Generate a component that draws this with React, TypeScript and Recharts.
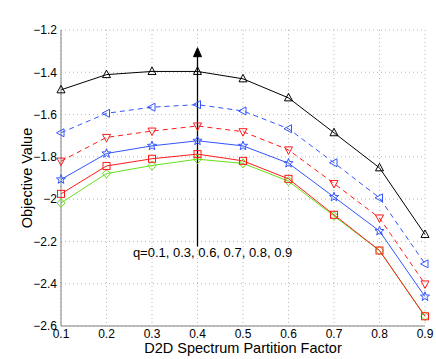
import React from 'react';
import {
  LineChart,
  Line,
  XAxis,
  YAxis,
  CartesianGrid,
  ReferenceLine,
  ReferenceDot,
} from 'recharts';

// D2D spectrum partition factor (x axis)
const factors = [0.1, 0.2, 0.3, 0.4, 0.5, 0.6, 0.7, 0.8, 0.9];

// objective value per q
const q09 = [-1.483, -1.411, -1.396, -1.396, -1.431, -1.521, -1.686, -1.852, -2.167];
const q08 = [-1.686, -1.594, -1.565, -1.553, -1.583, -1.667, -1.828, -1.994, -2.306];
const q07 = [-1.82, -1.708, -1.678, -1.654, -1.681, -1.767, -1.926, -2.089, -2.401];
const q06 = [-1.907, -1.784, -1.748, -1.724, -1.748, -1.83, -1.99, -2.151, -2.461];
const q03 = [-1.975, -1.843, -1.809, -1.787, -1.819, -1.904, -2.074, -2.243, -2.554];
const q01 = [-2.018, -1.879, -1.841, -1.811, -1.831, -1.915, -2.08, -2.243, -2.554];

const yTicks = [-2.6, -2.4, -2.2, -2, -1.8, -1.6, -1.4, -1.2];

// arrow + note
const arrowX = 0.4;
const arrowBottom = -2.224;
const arrowHead = -1.305;
const noteX = 0.258;
const noteY = -2.275;
const noteText = 'q=0.1, 0.3, 0.6, 0.7, 0.8, 0.9';

const data = factors.map((f, i) => ({
  f,
  q09: q09[i],
  q08: q08[i],
  q07: q07[i],
  q06: q06[i],
  q03: q03[i],
  q01: q01[i],
}));

const BLACK = '#000000';
const BLUE = '#3355ff';
const RED = '#ff1a1a';
const GREEN = '#66e01a';
const FONT = '"Liberation Sans", Arial, Helvetica, sans-serif';

const starPoints = (cx: number, cy: number) => {
  const pts: string[] = [];
  for (let k = 0; k < 10; k++) {
    const r = k % 2 === 0 ? 4.8 : 2;
    const a = -Math.PI / 2 + (k * Math.PI) / 5;
    pts.push(`${cx + r * Math.cos(a)},${cy + r * Math.sin(a)}`);
  }
  return pts.join(' ');
};

const makeDot = (kind: string, color: string) => (props: any) => {
  const { cx, cy, index } = props;
  const common = { fill: 'none', stroke: color, strokeWidth: 1 };
  const key = `${kind}-${index}`;
  if (cx == null || cy == null) return <g key={key} />;
  switch (kind) {
    case 'up':
      return <polygon key={key} {...common} points={`${cx},${cy - 4.5} ${cx - 4},${cy + 3} ${cx + 4},${cy + 3}`} />;
    case 'left':
      return <polygon key={key} {...common} points={`${cx - 4.5},${cy} ${cx + 3},${cy - 4} ${cx + 3},${cy + 4}`} />;
    case 'down':
      return <polygon key={key} {...common} points={`${cx},${cy + 4.5} ${cx - 4},${cy - 3} ${cx + 4},${cy - 3}`} />;
    case 'square':
      return <rect key={key} {...common} x={cx - 3.5} y={cy - 3.5} width={7} height={7} />;
    case 'diamond':
      return <polygon key={key} {...common} points={`${cx},${cy - 4.5} ${cx + 4},${cy} ${cx},${cy + 4.5} ${cx - 4},${cy}`} />;
    default:
      return <polygon key={key} {...common} points={starPoints(cx, cy)} />;
  }
};

const fmt = (v: number) => (v < 0 ? '\u2212' + String(Math.abs(v)) : String(v));

export default function App() {
  return (
    <div style={{ position: 'absolute', left: 0, top: 0, background: '#fff' }}>
      <LineChart
        width={436}
        height={359}
        data={data}
        margin={{ top: 30, right: 11, left: 0, bottom: 0 }}
        style={{ fontFamily: FONT }}
      >
        <CartesianGrid stroke="#b8b8b8" strokeDasharray="1 3" />
        <XAxis
          dataKey="f"
          type="number"
          domain={[0.1, 0.9]}
          ticks={factors}
          tickFormatter={fmt}
          height={33}
          stroke="#808080"
          tickLine={false}
          tickSize={3}
          tickMargin={0}
          tick={{ fill: '#000', fontSize: 12 }}
          label={{ value: 'D2D Spectrum Partition Factor', position: 'center', dy: 5, fill: '#000', fontSize: 14.5 }}
        />
        <YAxis
          type="number"
          domain={[-2.6, -1.2]}
          ticks={yTicks}
          tickFormatter={fmt}
          width={61}
          stroke="#808080"
          tickLine={false}
          tickSize={4}
          tickMargin={0}
          tick={{ fill: '#000', fontSize: 12 }}
          label={{ value: 'Objective Value', angle: -90, position: 'center', dx: -4, fill: '#000', fontSize: 14.5 }}
        />
        <ReferenceLine
          segment={[
            { x: arrowX, y: arrowBottom },
            { x: arrowX, y: arrowHead },
          ]}
          stroke={BLACK}
          strokeWidth={1.3}
        />
        <ReferenceDot
          x={arrowX}
          y={arrowHead}
          r={4}
          shape={(p: any) => (
            <polygon points={`${p.cx},${p.cy - 4.5} ${p.cx - 4},${p.cy + 4.5} ${p.cx + 4},${p.cy + 4.5}`} fill={BLACK} stroke={BLACK} />
          )}
        />
        <ReferenceDot
          x={noteX}
          y={noteY}
          r={1}
          shape={(p: any) => (
            <text x={p.cx} y={p.cy} textAnchor="start" fontSize={13} fontFamily={FONT} fill="#000">
              {noteText}
            </text>
          )}
        />
        <Line dataKey="q09" stroke={BLACK} strokeWidth={1} dot={makeDot('up', BLACK)} isAnimationActive={false} />
        <Line dataKey="q08" stroke={BLUE} strokeWidth={1} strokeDasharray="5 4" dot={makeDot('left', BLUE)} isAnimationActive={false} />
        <Line dataKey="q07" stroke={RED} strokeWidth={1} strokeDasharray="5 4" dot={makeDot('down', RED)} isAnimationActive={false} />
        <Line dataKey="q06" stroke={BLUE} strokeWidth={1} dot={makeDot('star', BLUE)} isAnimationActive={false} />
        <Line dataKey="q01" stroke={GREEN} strokeWidth={1} dot={makeDot('diamond', GREEN)} isAnimationActive={false} />
        <Line dataKey="q03" stroke={RED} strokeWidth={1} dot={makeDot('square', RED)} isAnimationActive={false} />
      </LineChart>
    </div>
  );
}
